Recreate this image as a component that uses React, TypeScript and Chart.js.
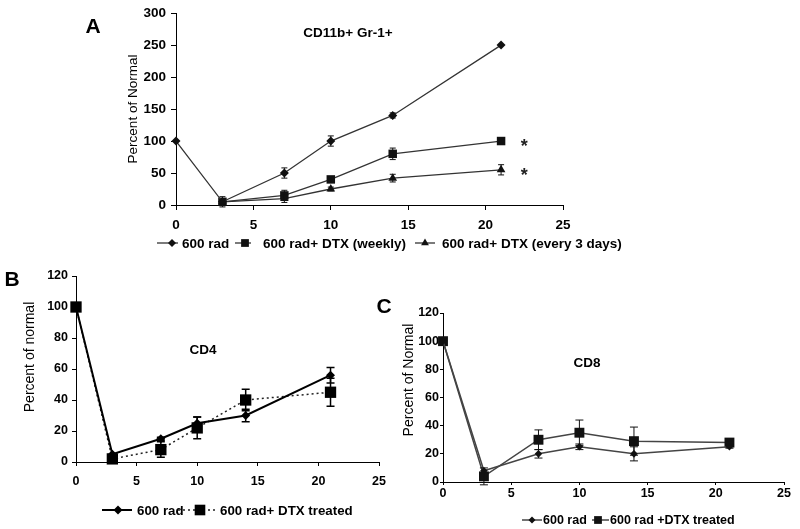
import React, { useEffect, useRef } from "react";
import { Chart, registerables } from "chart.js";

Chart.register(...registerables);

const FONT = "'Liberation Sans', Arial, Helvetica, sans-serif";

// ---------- Panel A: CD11b+ Gr-1+ ----------
const daysA = [0, 3, 7, 10, 14, 21];
const a600 = [100, 5, 50, 100, 140, 250];
const a600Err = [0, 0, 8, 8, 4, 0];
const daysDtxA = [3, 7, 10, 14, 21];
const aWeekly = [5, 15, 40, 80, 100];
const aWeeklyErr = [8, 8, 4, 9, 3];
const aEvery3 = [5, 10, 25, 42, 55];
const aEvery3Err = [3, 6, 3, 6, 8];
const labelsA = ["600 rad", "600 rad+ DTX (weekly)", "600 rad+ DTX (every 3 days)"];
const yTicksA = [0, 50, 100, 150, 200, 250, 300];
const starDayA = 22.5;

// ---------- Panel B: CD4 ----------
const daysB = [0, 3, 7, 10, 14, 21];
const b600 = [100, 5, 15, 25, 30, 56];
const b600Err = [0, 0, 1, 4, 4, 5];
const bDtx = [100, 2, 8, 22, 40, 45];
const bDtxErr = [0, 2, 5, 7, 7, 9];
const labelsB = ["600 rad", "600 rad+ DTX treated"];
const yTicksBC = [0, 20, 40, 60, 80, 100, 120];

// ---------- Panel C: CD8 ----------
const daysC = [0, 3, 7, 10, 14, 21];
const c600 = [100, 8, 20, 25, 20, 25];
const c600Err = [0, 0, 3, 2, 5, 1];
const cDtx = [100, 4, 30, 35, 29, 28];
const cDtxErr = [0, 6, 7, 9, 10, 1];
const labelsC = ["600 rad", "600 rad +DTX treated"];

const xTicks = [0, 5, 10, 15, 20, 25];

const pts = (xs: number[], ys: number[]) => xs.map((x, i) => ({ x, y: ys[i] }));

function drawMarker(ctx: CanvasRenderingContext2D, style: string, x: number, y: number, r: number) {
  ctx.beginPath();
  if (style === "rectRot") {
    ctx.moveTo(x - r, y);
    ctx.lineTo(x, y - r);
    ctx.lineTo(x + r, y);
    ctx.lineTo(x, y + r);
    ctx.closePath();
  } else if (style === "rect") {
    const s = r * Math.SQRT1_2;
    ctx.rect(x - s, y - s, 2 * s, 2 * s);
  } else if (style === "triangle") {
    let a = 0;
    ctx.moveTo(x + Math.sin(a) * r, y - Math.cos(a) * r);
    a += (2 * Math.PI) / 3;
    ctx.lineTo(x + Math.sin(a) * r, y - Math.cos(a) * r);
    a += (2 * Math.PI) / 3;
    ctx.lineTo(x + Math.sin(a) * r, y - Math.cos(a) * r);
    ctx.closePath();
  }
  ctx.fill();
}

function makeExtras(spec: any) {
  return {
    id: "extras",
    afterDatasetsDraw(chart: any) {
      const ctx: CanvasRenderingContext2D = chart.ctx;
      const xs = chart.scales.x;
      const ys = chart.scales.y;
      // error bars
      chart.data.datasets.forEach((ds: any) => {
        if (!ds.errors) return;
        ctx.save();
        ctx.strokeStyle = ds.errColor || "#000";
        ctx.lineWidth = ds.errWidth || 1;
        ctx.setLineDash([]);
        ds.data.forEach((p: any, j: number) => {
          const e = ds.errors[j];
          if (!e) return;
          const px = xs.getPixelForValue(p.x);
          const up = ds.errSide === "down" ? 0 : e;
          const dn = ds.errSide === "up" ? 0 : e;
          const yt = ys.getPixelForValue(p.y + up);
          const yb = ys.getPixelForValue(p.y - dn);
          const c = ds.errCap || 3;
          ctx.beginPath();
          ctx.moveTo(px, yt);
          ctx.lineTo(px, yb);
          if (up) {
            ctx.moveTo(px - c, yt);
            ctx.lineTo(px + c, yt);
          }
          if (dn) {
            ctx.moveTo(px - c, yb);
            ctx.lineTo(px + c, yb);
          }
          ctx.stroke();
        });
        ctx.restore();
      });
      // stars
      if (spec.stars) {
        ctx.save();
        ctx.fillStyle = "#222";
        ctx.font = `bold 18px ${FONT}`;
        ctx.textAlign = "center";
        ctx.textBaseline = "alphabetic";
        spec.stars.forEach((s: any) => {
          const px = xs.getPixelForValue(s.x);
          const py = ys.getPixelForValue(s.y);
          ctx.fillText("*", px, py + 11);
        });
        ctx.restore();
      }
    },
    afterDraw(chart: any) {
      const ctx: CanvasRenderingContext2D = chart.ctx;
      ctx.save();
      ctx.fillStyle = "#000";
      (spec.texts || []).forEach((t: any) => {
        ctx.save();
        ctx.font = t.font;
        ctx.textAlign = "center";
        ctx.textBaseline = "middle";
        ctx.translate(t.x, t.y);
        if (t.rotate) ctx.rotate(t.rotate);
        ctx.fillText(t.text, 0, 0);
        ctx.restore();
      });
      // legend
      const lg = spec.legend;
      if (lg) {
        lg.items.forEach((it: any) => {
          ctx.save();
          ctx.strokeStyle = it.color;
          ctx.lineWidth = it.lineWidth;
          ctx.setLineDash(it.dash || []);
          ctx.beginPath();
          ctx.moveTo(it.x0, lg.y);
          ctx.lineTo(it.x1, lg.y);
          ctx.stroke();
          ctx.setLineDash([]);
          ctx.fillStyle = it.markerColor;
          drawMarker(ctx, it.style, it.mx, lg.y, it.r);
          ctx.fillStyle = "#000";
          ctx.font = lg.font;
          ctx.textAlign = "left";
          ctx.textBaseline = "middle";
          ctx.fillText(it.text, it.tx, lg.y + 1);
          ctx.restore();
        });
      }
      ctx.restore();
    },
  };
}

function buildConfig(spec: any) {
  const yt = spec.yTicks;
  return {
    type: "line",
    data: { datasets: spec.datasets },
    options: {
      animation: false,
      responsive: false,
      maintainAspectRatio: false,
      layout: { padding: spec.padding },
      plugins: { legend: { display: false }, tooltip: { enabled: false } },
      elements: { line: { tension: 0 } },
      scales: {
        x: {
          type: "linear",
          min: xTicks[0],
          max: xTicks[xTicks.length - 1],
          ticks: {
            stepSize: xTicks[1] - xTicks[0],
            color: "#000",
            font: { family: FONT, size: spec.tickFont, weight: "bold" },
            padding: spec.xPad,
            maxRotation: 0,
            autoSkip: false,
          },
          grid: { drawOnChartArea: false, drawTicks: true, tickLength: spec.tl, color: "#000", lineWidth: 1 },
          border: { display: true, color: "#000", width: 1 },
          afterFit: (s: any) => {
            s.height = spec.xH;
          },
        },
        y: {
          type: "linear",
          min: yt[0],
          max: yt[yt.length - 1],
          ticks: {
            stepSize: yt[1] - yt[0],
            color: "#000",
            font: { family: FONT, size: spec.tickFont, weight: "bold" },
            padding: spec.yPad,
            autoSkip: false,
          },
          grid: { drawOnChartArea: false, drawTicks: true, tickLength: spec.tl, color: "#000", lineWidth: 1 },
          border: { display: true, color: "#000", width: 1 },
          afterFit: (s: any) => {
            s.width = spec.yW;
          },
        },
      },
    },
    plugins: [makeExtras(spec)],
  };
}

function ds(label: string, xs: number[], ys: number[], errs: number[], o: any) {
  return {
    label,
    data: pts(xs, ys),
    errors: errs,
    borderColor: o.color,
    borderWidth: o.width,
    borderDash: o.dash || [],
    pointStyle: o.style,
    pointRadius: o.r,
    pointBackgroundColor: o.mcolor,
    pointBorderColor: o.mcolor,
    pointBorderWidth: 0,
    fill: false,
    clip: false,
    errColor: o.ecolor || o.mcolor,
    errWidth: o.ewidth || 1,
    errCap: o.cap,
    errSide: o.side || "both",
  };
}

const specA = {
  padding: { left: 120, right: 237, top: 11, bottom: 0 },
  yW: 56,
  xH: 57,
  tl: 5,
  yPad: 5,
  xPad: 7,
  tickFont: 13.5,
  yTicks: yTicksA,
  datasets: [
    ds(labelsA[0], daysA, a600, a600Err, { color: "#333", width: 1.3, style: "rectRot", r: 4.5, mcolor: "#111", cap: 3 }),
    ds(labelsA[1], daysDtxA, aWeekly, aWeeklyErr, { color: "#333", width: 1.3, style: "rect", r: 6, mcolor: "#111", cap: 3 }),
    ds(labelsA[2], daysDtxA, aEvery3, aEvery3Err, { color: "#333", width: 1.3, style: "triangle", r: 5, mcolor: "#111", cap: 3 }),
  ],
  stars: [
    { x: starDayA, y: aWeekly[aWeekly.length - 1] },
    { x: starDayA, y: aEvery3[aEvery3.length - 1] },
  ],
  texts: [
    { text: "A", x: 93, y: 27, font: `bold 21px ${FONT}` },
    { text: "CD11b+ Gr-1+", x: 348, y: 33, font: `bold 13.5px ${FONT}` },
    { text: "Percent of Normal", x: 133, y: 109, font: `13.5px ${FONT}`, rotate: -Math.PI / 2 },
  ],
  legend: {
    y: 243,
    font: `bold 13.5px ${FONT}`,
    items: [
      { x0: 157, x1: 178, mx: 172, style: "rectRot", r: 4, tx: 182, text: labelsA[0], color: "#333", lineWidth: 1.3, markerColor: "#111" },
      { x0: 235, x1: 251, mx: 245, style: "rect", r: 5.5, tx: 263, text: labelsA[1], color: "#333", lineWidth: 1.3, markerColor: "#111" },
      { x0: 415, x1: 435, mx: 425, style: "triangle", r: 4.5, tx: 442, text: labelsA[2], color: "#333", lineWidth: 1.3, markerColor: "#111" },
    ],
  },
};

const specB = {
  padding: { left: 20, right: 21, top: 14, bottom: 0 },
  yW: 56,
  xH: 67,
  tl: 4,
  yPad: 4,
  xPad: 8,
  tickFont: 12.5,
  yTicks: yTicksBC,
  datasets: [
    ds(labelsB[0], daysB, b600, b600Err, { color: "#000", width: 2, style: "rectRot", r: 4.5, mcolor: "#000", cap: 4, ewidth: 1.5 }),
    ds(labelsB[1], daysB, bDtx, bDtxErr, { color: "#222", width: 1.5, dash: [2, 3], style: "rect", r: 8, mcolor: "#000", cap: 4, ewidth: 1.5 }),
  ],
  texts: [
    { text: "B", x: 12, y: 18, font: `bold 21px ${FONT}` },
    { text: "C", x: 384, y: 45, font: `bold 21px ${FONT}` },
    { text: "CD4", x: 203, y: 88, font: `bold 13.5px ${FONT}` },
    { text: "Percent of normal", x: 30, y: 95, font: `14px ${FONT}`, rotate: -Math.PI / 2 },
  ],
  legend: {
    y: 248,
    font: `bold 13.3px ${FONT}`,
    items: [
      { x0: 102, x1: 132, mx: 118, style: "rectRot", r: 4.5, tx: 137, text: labelsB[0], color: "#000", lineWidth: 2, markerColor: "#000" },
      { x0: 178, x1: 218, mx: 200, style: "rect", r: 7.5, tx: 220, text: labelsB[1], color: "#222", lineWidth: 1.5, dash: [2, 3], markerColor: "#000" },
    ],
  },
};

const specC = {
  padding: { left: 0, right: 16, top: 51, bottom: 0 },
  yW: 43,
  xH: 47,
  tl: 3,
  yPad: 1,
  xPad: 1,
  tickFont: 12.5,
  yTicks: yTicksBC,
  datasets: [
    ds(labelsC[0], daysC, c600, c600Err, { color: "#444", width: 1.5, style: "rectRot", r: 3.8, mcolor: "#111", cap: 4 }),
    ds(labelsC[1], daysC, cDtx, cDtxErr, { color: "#444", width: 1.5, style: "rect", r: 7, mcolor: "#111", cap: 4 }),
  ],
  texts: [
    { text: "CD8", x: 187, y: 101, font: `bold 13.5px ${FONT}` },
    { text: "Percent of Normal", x: 9, y: 118, font: `14px ${FONT}`, rotate: -Math.PI / 2 },
  ],
  legend: {
    y: 258,
    font: `bold 12.5px ${FONT}`,
    items: [
      { x0: 122, x1: 142, mx: 132, style: "rectRot", r: 3.5, tx: 143, text: labelsC[0], color: "#444", lineWidth: 1.5, markerColor: "#111" },
      { x0: 192, x1: 209, mx: 198, style: "rect", r: 5.5, tx: 210, text: labelsC[1], color: "#444", lineWidth: 1.5, markerColor: "#111" },
    ],
  },
};

function Panel(props: { left: number; top: number; width: number; height: number; spec: any }) {
  const ref = useRef<HTMLCanvasElement | null>(null);
  useEffect(() => {
    if (!ref.current) return;
    const chart = new Chart(ref.current, buildConfig(props.spec) as any);
    return () => chart.destroy();
  }, []);
  return (
    <canvas
      ref={ref}
      width={props.width}
      height={props.height}
      style={{ position: "absolute", left: props.left, top: props.top, width: props.width, height: props.height }}
    />
  );
}

export default function App() {
  return (
    <div style={{ position: "absolute", left: 0, top: 0, width: 800, height: 529, background: "#fff", overflow: "hidden" }}>
      <Panel left={0} top={0} width={800} height={262} spec={specA} />
      <Panel left={0} top={262} width={400} height={267} spec={specB} />
      <Panel left={400} top={262} width={400} height={267} spec={specC} />
    </div>
  );
}
